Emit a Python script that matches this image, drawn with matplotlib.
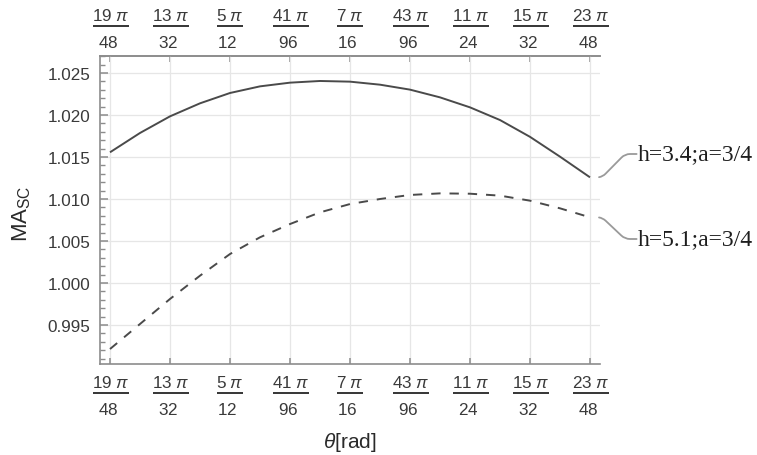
import numpy as np
import matplotlib
matplotlib.use('Agg')
import matplotlib.pyplot as plt
from matplotlib.ticker import MultipleLocator

# ---- data (theta in units of pi/192) ----
theta_steps = [76, 77, 78, 79, 80, 81, 82, 83, 84, 85, 86, 87, 88, 89, 90, 91, 92]
ma_h34 = [1.01556, 1.01786, 1.01984, 1.02139, 1.02262, 1.02341, 1.02385, 1.02405,
          1.02397, 1.02361, 1.02302, 1.02210, 1.02091, 1.01940, 1.01740, 1.01504, 1.01258]
ma_h51 = [0.99214, 0.99512, 0.99810, 1.00087, 1.00345, 1.00544, 1.00702, 1.00841,
          1.00940, 1.01000, 1.01048, 1.01067, 1.01063, 1.01040, 1.00980, 1.00889, 1.00782]
xtick_nums = [19, 13, 5, 41, 7, 43, 11, 15, 23]
xtick_dens = [48, 32, 12, 96, 16, 96, 24, 32, 48]
yticks = [0.995, 1.000, 1.005, 1.010, 1.015, 1.020, 1.025]
label_h34 = 'h=3.4;a=3/4'
label_h51 = 'h=5.1;a=3/4'
xlabel = r'$\theta$[rad]'
ylabel = r'MA$_{\mathrm{SC}}$'

plt.rcParams['font.family'] = ['Liberation Sans', 'DejaVu Sans']
plt.rcParams['mathtext.fontset'] = 'custom'
plt.rcParams['mathtext.rm'] = 'Liberation Sans'
plt.rcParams['mathtext.it'] = 'Liberation Sans:italic'
plt.rcParams['mathtext.bf'] = 'Liberation Sans:bold'
plt.rcParams['mathtext.sf'] = 'Liberation Sans'

W, H = 757, 456
fig = plt.figure(figsize=(W / 100, H / 100), dpi=100)
ax = fig.add_axes([100 / W, 91 / H, 500 / W, 308 / H])

theta = np.array(theta_steps) * np.pi / 192
line_col = '#4a4a4a'
ax.plot(theta, ma_h34, color=line_col, lw=1.4, solid_capstyle='butt')
ax.plot(theta, ma_h51, color=line_col, lw=1.4, linestyle=(0, (4.8, 4.6)))


def frac_label(n, d):
    # numerator over a thick bar, denominator pushed further down
    den = r'\genfrac{}{}{0}{0}{\,}{\genfrac{}{}{0}{0}{\,}{%d}}' % d
    return r'$\genfrac{}{}{2.2}{0}{%d\;\pi}{%s}$' % (n, den)


xticks = [n * np.pi / d for n, d in zip(xtick_nums, xtick_dens)]
xlabels = [frac_label(n, d) for n, d in zip(xtick_nums, xtick_dens)]
ax.set_xticks(xticks)
ax.set_xticklabels(xlabels)
ax.set_yticks(yticks)
ax.set_yticklabels([f'{v:.3f}' for v in yticks])
ax.yaxis.set_minor_locator(MultipleLocator(0.001))

ax.set_xlim((38 - 1 / 6) * np.pi / 96, (46 + 1 / 6) * np.pi / 96)
ax.set_ylim(0.990357, 1.027024)

spine_col = '#8c8c8c'
lab_col = '#3a3a3a'
for s in ['left', 'bottom', 'top']:
    ax.spines[s].set_color(spine_col)
    ax.spines[s].set_linewidth(1.2)
ax.spines['right'].set_visible(False)

ax.grid(True, which='major', color='#e6e6e6', lw=0.9)
ax.set_axisbelow(True)

ax.tick_params(axis='x', which='both', top=False, labeltop=False, bottom=True,
               labelbottom=True, direction='in', length=4, width=1.1,
               color=spine_col, pad=7.5, labelsize=12.3, labelcolor=lab_col)
ax.tick_params(axis='y', which='major', direction='in', length=6, width=1.1,
               color=spine_col, pad=7, labelsize=12.3, labelcolor=lab_col, right=False)
ax.tick_params(axis='y', which='minor', direction='in', length=3.5, width=1.0,
               color=spine_col, right=False)

sec = ax.secondary_xaxis('top')
sec.set_xticks(xticks)
sec.set_xticklabels(xlabels)
sec.tick_params(axis='x', direction='in', length=4, width=1.1, color=spine_col,
                pad=4.4, labelsize=12.3, labelcolor=lab_col)
sec.spines['top'].set_color(spine_col)
sec.spines['top'].set_linewidth(1.2)

ax.set_ylabel(ylabel, fontsize=16, color='#2a2a2a')
ax.yaxis.set_label_coords(-0.134, 0.49)
ax.set_xlabel(xlabel, fontsize=15, color='#2a2a2a')
ax.xaxis.set_label_coords(0.5, -0.215)

arc = 'arc,angleA=180,armA=13,angleB=0,armB=12,rad=5'
for lab, ys, ypx in [(label_h34, ma_h34, 155), (label_h51, ma_h51, 240)]:
    ax.annotate(lab, xy=(theta[-1], ys[-1]), xycoords='data',
                xytext=(638, H - ypx), textcoords='figure pixels',
                ha='left', va='center', fontfamily='Liberation Serif',
                fontsize=17, color='#1e1e1e',
                arrowprops=dict(arrowstyle='-', color='#9a9a9a', lw=1.3,
                                shrinkA=1, shrinkB=6.5, patchA=None,
                                relpos=(0, 0.5), connectionstyle=arc),
                annotation_clip=False)

fig.savefig('out.png', dpi=100)
